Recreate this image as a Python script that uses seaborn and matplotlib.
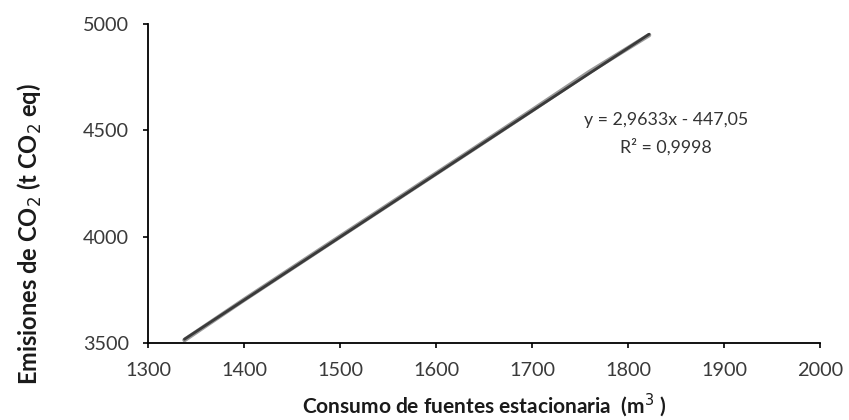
import matplotlib
matplotlib.use("Agg")
import matplotlib.pyplot as plt
import numpy as np
import pandas as pd
import seaborn as sns

# Stationary-source fuel consumption (m3) and resulting CO2 emissions (t CO2 eq)
consumo = [1338, 1400, 1480, 1560, 1640, 1700, 1760, 1822]
emisiones = [3514, 3703, 3941, 4178, 4415, 4594, 4775, 4948]

# Linear trend reported on the chart
pendiente = 2.9633
intercepto = -447.05
r2 = 0.9998

x_ticks = [1300, 1400, 1500, 1600, 1700, 1800, 1900, 2000]
y_ticks = [3500, 4000, 4500, 5000]

sns.set_theme(style="white")
plt.rcParams["font.family"] = ["Lato", "DejaVu Sans"]

df = pd.DataFrame({"consumo": consumo, "emisiones": emisiones})

fig = plt.figure(figsize=(8.49, 4.2), dpi=100)
ax = fig.add_axes([0.1743, 0.1833, 0.7915, 0.7595])

sns.lineplot(data=df, x="consumo", y="emisiones", ax=ax, color="#9a9a9a",
             linewidth=3.2, sort=True)
xt = np.array([consumo[0], consumo[-1]])
sns.lineplot(x=xt, y=pendiente * xt + intercepto, ax=ax, color="#3a3a3a",
             linewidth=2.0)

ax.set_xlim(1300, 2000)
ax.set_ylim(3500, 5000)
ax.set_xticks(x_ticks)
ax.set_yticks(y_ticks)
ax.tick_params(axis="both", direction="out", length=3.6, width=1.2, color="black",
               labelsize=14.3, labelcolor="#3a3a3a", bottom=True, left=True, pad=10)

for side in ["top", "right"]:
    ax.spines[side].set_visible(False)
for side in ["left", "bottom"]:
    ax.spines[side].set_color("black")
    ax.spines[side].set_linewidth(1.3)

ax.set_xlabel("Consumo de fuentes estacionaria  (m$^{3}$ )", fontsize=15,
              fontweight="bold", color="#1a1a1a", va="center")
ax.xaxis.set_label_coords(0.5, -0.193)
ax.set_ylabel("Emisiones de CO$_{2}$ (t CO$_{2}$ eq)", fontsize=17,
              fontweight="bold", color="#1a1a1a", va="center")
ax.yaxis.set_label_coords(-0.176, 0.34)

ax.text(1840, 4549, f"y = {pendiente:.4f}x - {abs(intercepto):.2f}".replace(".", ","),
        ha="center", va="center", fontsize=12.8, color="#333333")
ax.text(1840, 4422, f"R² = {r2:.4f}".replace(".", ","),
        ha="center", va="center", fontsize=12.8, color="#333333")

fig.savefig("out.png", dpi=100)
